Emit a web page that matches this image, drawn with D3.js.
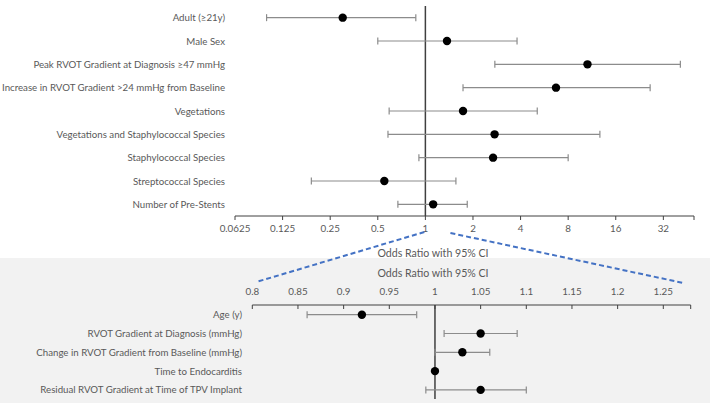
<!DOCTYPE html>
<html><head><meta charset="utf-8">
<script src="https://cdn.jsdelivr.net/npm/d3@7"></script>
<style>body{margin:0;background:#fff}svg{display:block;font-family:Lato,"Open Sans",sans-serif}</style>
</head><body><svg id="c" width="710" height="406"></svg>
<script>
const topLabels = ["Adult (≥21y)","Male Sex","Peak RVOT Gradient at Diagnosis ≥47 mmHg","Increase in RVOT Gradient >24 mmHg from Baseline","Vegetations","Vegetations and Staphylococcal Species","Staphylococcal Species","Streptococcal Species","Number of Pre-Stents"];
const topOR    = [0.30, 1.37, 10.6, 6.7, 1.73, 2.74, 2.68, 0.55, 1.12];
const topLower = [0.099, 0.50, 2.75, 1.73, 0.59, 0.58, 0.91, 0.19, 0.67];
const topUpper = [0.87, 3.8, 41, 26.4, 5.1, 12.7, 8.0, 1.56, 1.84];
const topTicks = [0.0625, 0.125, 0.25, 0.5, 1, 2, 4, 8, 16, 32];

const botLabels = ["Age (y)","RVOT Gradient at Diagnosis (mmHg)","Change in RVOT Gradient from Baseline (mmHg)","Time to Endocarditis","Residual RVOT Gradient at Time of TPV Implant"];
const botOR    = [0.92, 1.05, 1.03, 1.00, 1.05];
const botLower = [0.86, 1.01, 1.00, 1.00, 0.99];
const botUpper = [0.98, 1.09, 1.06, 1.00, 1.10];
const botTicks = [0.8, 0.85, 0.9, 0.95, 1, 1.05, 1.1, 1.15, 1.2, 1.25];

const svg = d3.select("#c");
const txt = "#595959", bar = "#8c8c8c", ref = "#404040";

// bottom panel background
svg.append("rect").attr("x",0).attr("y",258).attr("width",710).attr("height",145).attr("fill","#f2f2f2");

function panel(cfg){
  const g = svg.append("g");
  const x = cfg.x, y = cfg.y;
  g.append("line").attr("x1",x.range()[0]).attr("x2",x.range()[1]).attr("y1",cfg.axisY).attr("y2",cfg.axisY).attr("stroke",ref).attr("stroke-width",1);
  cfg.ticks.forEach(t=>{
    g.append("line").attr("x1",x(t)).attr("x2",x(t)).attr("y1",cfg.axisY).attr("y2",cfg.axisY+4).attr("stroke",ref);
    g.append("text").attr("x",x(t)).attr("y",cfg.tickY).attr("text-anchor","middle").attr("font-size",9.8).attr("fill",txt).text(d3.format("")(t));
  });
  g.append("line").attr("x1",x.range()[1]).attr("x2",x.range()[1]).attr("y1",cfg.axisY).attr("y2",cfg.axisY+4).attr("stroke",ref);
  g.append("line").attr("x1",x(1)).attr("x2",x(1)).attr("y1",cfg.refTop).attr("y2",cfg.refBot).attr("stroke",ref).attr("stroke-width",1.5);
  cfg.labels.forEach((l,i)=>{
    const cy = y(l)+y.bandwidth()/2;
    g.append("text").attr("x",cfg.labelX).attr("y",cy+3.5).attr("text-anchor","end").attr("font-size",9.7).attr("fill",txt).text(l);
    const lo = x(cfg.lower[i]), hi = x(cfg.upper[i]);
    if (hi - lo > 0.5) {
      g.append("line").attr("x1",lo).attr("x2",hi).attr("y1",cy).attr("y2",cy).attr("stroke",bar).attr("stroke-width",1.2);
      [lo,hi].forEach(xx=>g.append("line").attr("x1",xx).attr("x2",xx).attr("y1",cy-3.5).attr("y2",cy+3.5).attr("stroke",bar).attr("stroke-width",1.2));
    }
    g.append("circle").attr("cx",x(cfg.or[i])).attr("cy",cy).attr("r",4.2).attr("fill","#000");
  });
  g.append("text").attr("x",cfg.titleX).attr("y",cfg.titleY).attr("text-anchor","middle").attr("font-size",10.6).attr("fill",txt).text("Odds Ratio with 95% CI");
}

const xTop = d3.scaleLog().base(2).domain([0.0625, 50]).range([235, 694]);
const yTop = d3.scaleBand().domain(topLabels).range([6, 216]);
panel({x:xTop, y:yTop, labels:topLabels, or:topOR, lower:topLower, upper:topUpper, ticks:topTicks,
  axisY:216, tickY:232, refTop:6, refBot:216, labelX:225, titleX:433, titleY:256.5});

const xBot = d3.scaleLinear().domain([0.8, 1.28]).range([252.3, 690.7]);
const yBot = d3.scaleBand().domain(botLabels).range([305.3, 399.3]);
panel({x:xBot, y:yBot, labels:botLabels, or:botOR, lower:botLower, upper:botUpper, ticks:botTicks,
  axisY:305, tickY:294.5, refTop:305, refBot:399, labelX:242, titleX:433, titleY:277});

const dash = svg.append("g").attr("stroke","#4472c4").attr("stroke-width",2).attr("stroke-dasharray","5,3").attr("fill","none");
dash.append("line").attr("x1",xTop(1)-1).attr("y1",232).attr("x2",xBot(0.8)+4).attr("y2",282);
dash.append("line").attr("x1",xTop(1.44)).attr("y1",233).attr("x2",xBot(1.272)).attr("y2",283);
</script></body></html>
